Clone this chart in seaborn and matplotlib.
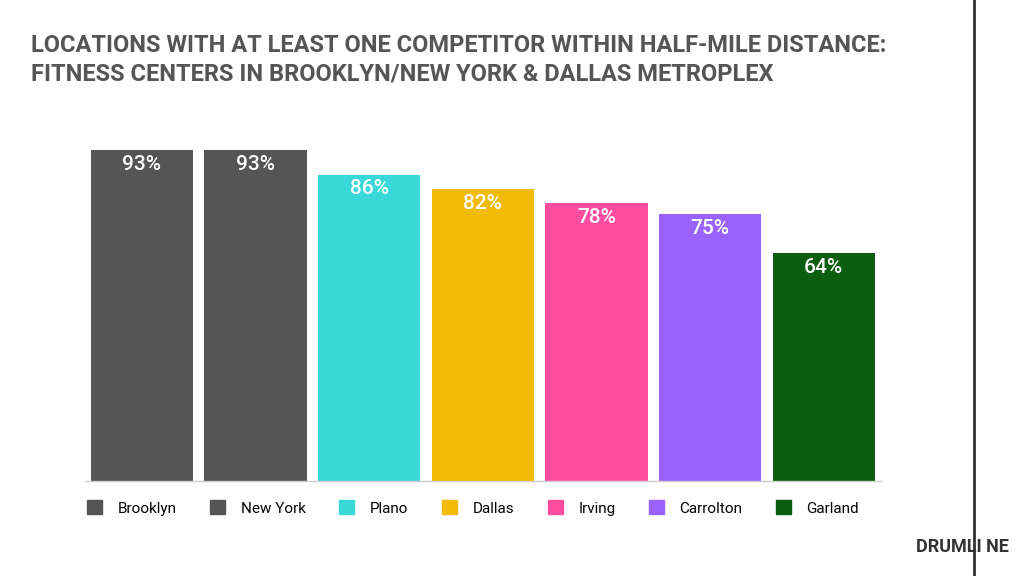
import matplotlib
matplotlib.use("Agg")
import matplotlib.pyplot as plt
import seaborn as sns
import pandas as pd
from matplotlib.patches import Patch

categories = ["Brooklyn", "New York", "Plano", "Dallas", "Irving", "Carrolton", "Garland"]
values = [93, 93, 86, 82, 78, 75, 64]
colors = ["#555555", "#555555", "#3ad8d8", "#f2bb08", "#ff4da0", "#9a62ff", "#0b5d0f"]

df = pd.DataFrame({"city": categories, "pct": values})
fig = plt.figure(figsize=(10.24, 5.76), dpi=100)
ax = fig.add_axes([0.0830, 0.165, 0.7770, 0.618])
sns.barplot(data=df, x="city", y="pct", hue="city", palette=colors, legend=False,
            width=0.9, saturation=1, ax=ax)
ax.set_ylim(0, 100)
ax.set_xlim(-0.5, 6.5)
for i, v in enumerate(values):
    ax.text(i, v - 1.3, f"{v}%", ha="center", va="top", color="white",
            fontsize=15, family="Roboto", fontweight="medium")
ax.axis("off")
ax.plot([-0.5, 6.5], [0, 0], color="#cccccc", lw=1, clip_on=False)

handles = [Patch(color=c, label=l) for c, l in zip(colors, categories)]
fig.legend(handles=handles, loc="center", bbox_to_anchor=(0.462, 0.118), ncol=7,
           frameon=False, handlelength=1.0, handleheight=1.0, columnspacing=2.2,
           handletextpad=1.0, prop={"family": "Roboto", "size": 11})

fig.text(0.030, 0.896, "LOCATIONS WITH AT LEAST ONE COMPETITOR WITHIN HALF-MILE DISTANCE:\nFITNESS CENTERS IN BROOKLYN/NEW YORK & DALLAS METROPLEX",
         ha="left", va="center", fontsize=17, fontweight="bold", family="Roboto",
         color="#555555", linespacing=1.3, transform=fig.transFigure)
fig.add_artist(plt.Line2D([0.951, 0.951], [0, 1], color="#333333", lw=2, transform=fig.transFigure))
fig.text(0.895, 0.05, "DRUMLI NE", ha="left", va="center", fontsize=13, fontweight="bold",
         family="Roboto", color="#333333")
fig.savefig("out.png", dpi=100, facecolor="white")
